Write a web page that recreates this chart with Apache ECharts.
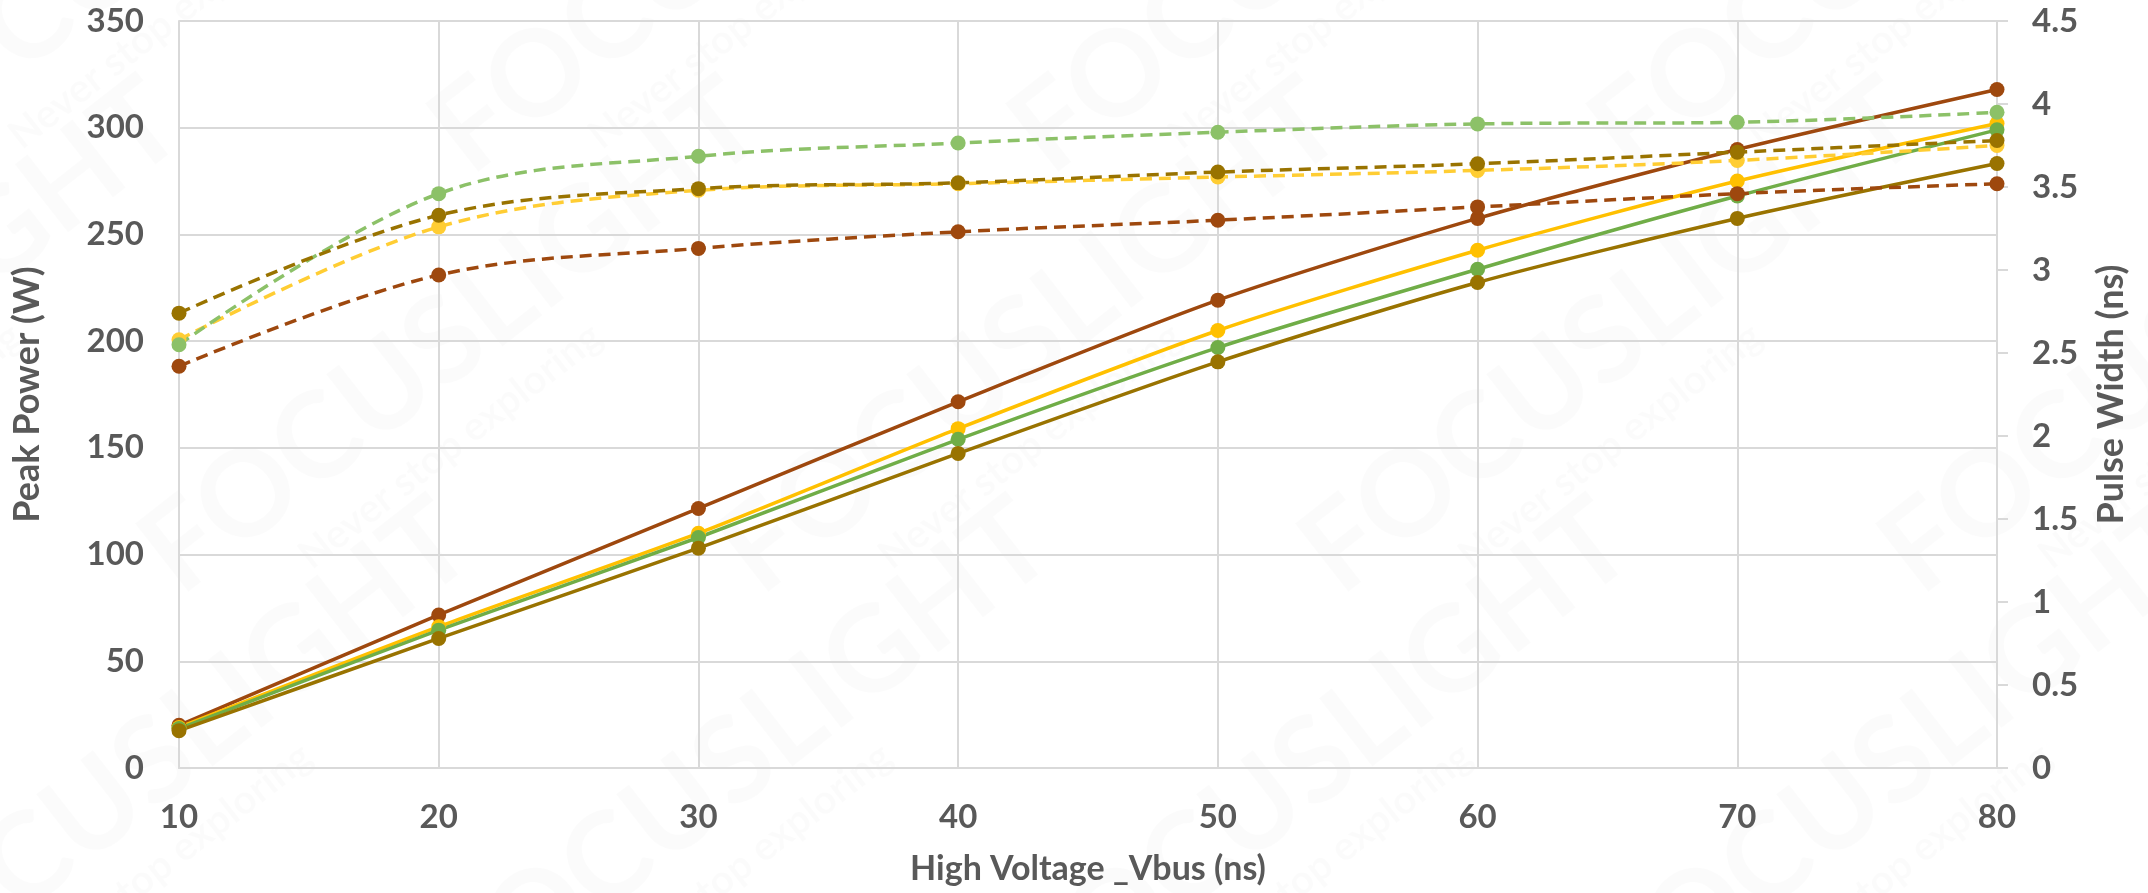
<!DOCTYPE html>
<html>
<head>
<meta charset="utf-8">
<script src="https://cdn.jsdelivr.net/npm/echarts@6/dist/echarts.min.js"></script>
<style>
  html, body { margin: 0; padding: 0; background: #fff; }
  #chart { width: 2148px; height: 893px; }
</style>
</head>
<body>
<div id="chart"></div>
<script>
// x categories (High Voltage _Vbus)
const vbus = ['10', '20', '30', '40', '50', '60', '70', '80'];

// peak power (W), left axis, solid lines
const powerRed = [20, 71.7, 121.6, 171.6, 219.2, 257.5, 289.8, 317.9];
const powerYellow = [19, 66.2, 110, 159, 205, 242.6, 275, 302];
const powerGreen = [18.5, 64.6, 108, 154, 197, 233.7, 268, 299];
const powerOlive = [17.5, 60.7, 103, 147.4, 190.3, 227.5, 257.5, 283.2];

// pulse width (ns), right axis, dashed lines
const widthRed = [2.42, 2.97, 3.13, 3.23, 3.30, 3.38, 3.46, 3.52];
const widthYellow = [2.58, 3.26, 3.48, 3.52, 3.56, 3.60, 3.66, 3.75];
const widthGreen = [2.55, 3.46, 3.685, 3.765, 3.83, 3.88, 3.89, 3.95];
const widthOlive = [2.74, 3.33, 3.49, 3.525, 3.59, 3.64, 3.71, 3.78];

const FONT = 'Lato';
const TEXT = '#595959';
const GRID = '#d9d9d9';

function solid(name, data, color) {
    return {
        name: name, type: 'line', yAxisIndex: 0, data: data,
        smooth: 0.25, symbol: 'circle', symbolSize: 15,
        itemStyle: { color: color },
        lineStyle: { color: color, width: 3.5 },
        z: 3
    };
}

function dashed(name, data, color) {
    return {
        name: name, type: 'line', yAxisIndex: 1, data: data,
        smooth: 0.35, symbol: 'circle', symbolSize: 15,
        itemStyle: { color: color },
        lineStyle: { color: color, width: 3.5, type: [12, 7] },
        z: 4
    };
}

// faint diagonal watermark
const marks = [];
const rot = 38 * Math.PI / 180;
for (let row = -1; row < 3; row++) {
    for (let col = -1; col < 5; col++) {
        const x = col * 580 + row * 290 + 120;
        const y = row * 420 + 520;
        marks.push({
            type: 'group', x: x, y: y, rotation: rot, silent: true, z: -1,
            children: [
                { type: 'text', style: { text: 'FOCUSLIGHT', font: 'bold 120px ' + FONT, fill: 'rgba(0,0,0,0.014)' } },
                { type: 'text', x: 120, y: 125, style: { text: 'Never stop exploring', font: 'bold 40px ' + FONT, fill: 'rgba(0,0,0,0.014)' } }
            ]
        });
    }
}

const option = {
    backgroundColor: '#fff',
    animation: false,
    textStyle: { fontFamily: FONT },
    grid: { left: 179, right: 151, top: 21, bottom: 125 },
    graphic: marks,
    xAxis: {
        type: 'category',
        data: vbus,
        boundaryGap: false,
        name: 'High Voltage _Vbus (ns)',
        nameLocation: 'middle',
        nameGap: 84,
        nameTextStyle: { fontSize: 34, fontWeight: 'bold', color: TEXT, fontFamily: FONT },
        axisLine: { lineStyle: { color: GRID, width: 2 } },
        axisTick: { show: false },
        axisLabel: { fontSize: 33, fontWeight: 'bold', color: TEXT, margin: 33, fontFamily: FONT },
        splitLine: { show: true, lineStyle: { color: GRID, width: 2 } }
    },
    yAxis: [
        {
            type: 'value', min: 0, max: 350, interval: 50,
            name: 'Peak Power (W)',
            nameLocation: 'middle',
            nameRotate: 90,
            nameGap: 134,
            nameTextStyle: { fontSize: 36, fontWeight: 'bold', color: TEXT, fontFamily: FONT },
            axisLine: { show: true, lineStyle: { color: GRID, width: 2 } },
            axisTick: { show: false },
            axisLabel: { fontSize: 33, fontWeight: 'bold', color: TEXT, margin: 35, fontFamily: FONT },
            splitLine: { show: true, lineStyle: { color: GRID, width: 2 } }
        },
        {
            type: 'value', min: 0, max: 4.5, interval: 0.5,
            position: 'right',
            name: 'Pulse Width (ns)',
            nameLocation: 'middle',
            nameRotate: 90,
            nameGap: 96,
            nameTextStyle: { fontSize: 36, fontWeight: 'bold', color: TEXT, fontFamily: FONT },
            axisLine: { show: true, lineStyle: { color: GRID, width: 2 } },
            axisTick: { show: true, inside: false, length: 11, lineStyle: { color: GRID, width: 2 } },
            axisLabel: { fontSize: 33, fontWeight: 'bold', color: TEXT, margin: 35, fontFamily: FONT },
            splitLine: { show: false }
        }
    ],
    series: [
        solid('Peak Power A', powerRed, '#9E480E'),
        solid('Peak Power B', powerYellow, '#FFC000'),
        solid('Peak Power C', powerGreen, '#70AD47'),
        solid('Peak Power D', powerOlive, '#997300'),
        dashed('Pulse Width A', widthRed, '#9E480E'),
        dashed('Pulse Width B', widthYellow, '#FFCD33'),
        dashed('Pulse Width C', widthGreen, '#8CC168'),
        dashed('Pulse Width D', widthOlive, '#997300')
    ]
};

const chart = echarts.init(document.getElementById('chart'));
chart.setOption(option);
</script>
</body>
</html>
